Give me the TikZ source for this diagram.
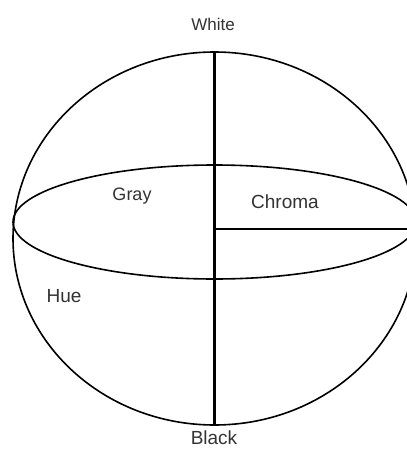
\documentclass[tikz,border=0pt]{standalone}
\usepackage{fontspec}
\setmainfont{Liberation Sans}
\usetikzlibrary{shapes.geometric}
\definecolor{txt}{HTML}{333333}
\begin{document}
\begin{tikzpicture}[x=1pt,y=-1pt,
  outline/.style={draw=black, line width=1.6pt, ellipse, inner sep=0pt},
  axis/.style={draw=black, line width=2.2pt},
  lbl/.style={text=txt, inner sep=0pt, font=\fontsize{19}{22}\selectfont}]
\useasboundingbox (0,0) rectangle (407,450);
\clip (0,0) rectangle (407,450);
\fill[white] (0,0) rectangle (407,450);
\node[outline, minimum width=403pt, minimum height=373pt] (sphere) at (214.5,238.5) {};
\node[outline, minimum width=403pt, minimum height=114pt] (equator) at (214.5,222) {};
\draw[axis] (sphere.north) -- (sphere.south);
\coordinate (c) at (214.5,229);
\coordinate (ce) at (416,229);
\draw[draw=black, line width=1.6pt] (c) -- (ce);
\node[lbl, font=\fontsize{17}{20}\selectfont] (white) at (213,24) {White};
\node[lbl] (black) at (214,438) {Black};
\node[lbl, font=\fontsize{18}{21}\selectfont] (gray) at (132,196) {Gray};
\node[lbl] (chroma) at (285,202) {Chroma};
\node[lbl] (hue) at (64,296) {Hue};
\end{tikzpicture}
\end{document}
